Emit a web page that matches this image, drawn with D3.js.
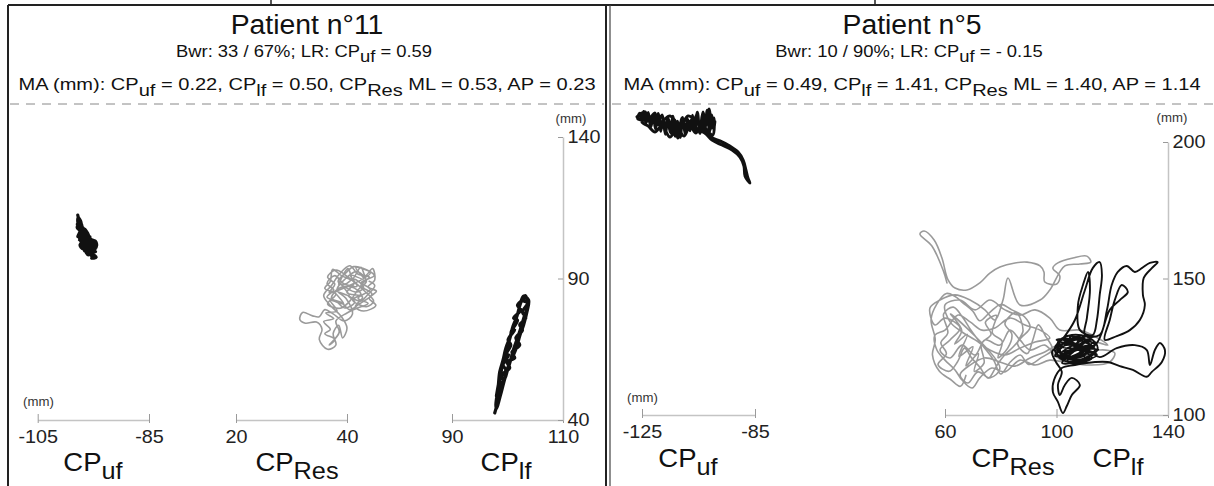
<!DOCTYPE html>
<meta charset="utf-8">
<style>
body { margin: 0; background: white; }
svg { display: block; font-family: "Liberation Sans", Arial, sans-serif; }
.trace { fill: none; stroke-linejoin: round; stroke-linecap: round; }
.axis path { stroke: #c4c4c4; stroke-width: 1.5px; }
.axis line { stroke: #9a9a9a; stroke-width: 1px; }
.axis text { fill: #222; }
</style>
<body>
<svg width="1214" height="486"></svg>
</body>
<script src="https://d3js.org/d3.v7.min.js"></script>
<script>

// panel texts
var titles = ["Patient n°11", "Patient n°5"];
var subtitles = [
  [["Bwr: 33 / 67%; LR: CP"], ["uf", 1], [" = 0.59"]],
  [["Bwr: 10 / 90%; LR: CP"], ["uf", 1], [" = - 0.15"]]
];
var maLines = [
  [["MA (mm): CP"], ["uf", 1], [" = 0.22, CP"], ["lf", 1], [" = 0.50, CP"], ["Res", 1], [" ML = 0.53, AP = 0.23"]],
  [["MA (mm): CP"], ["uf", 1], [" = 0.49, CP"], ["lf", 1], [" = 1.41, CP"], ["Res", 1], [" ML = 1.40, AP = 1.14"]]
];

// tick labels
var ticksL_uf = [-105, -85], ticksL_res = [20, 40], ticksL_lf = [90, 110], ticksL_y = [40, 90, 140];
var ticksR_uf = [-125, -85], ticksR_x = [60, 100, 140], ticksR_y = [100, 150, 200];

// patient 11 traces (mm)
var p11_uf = [[-97.8,112.4],[-97.6,110.0],[-97.9,108.0],[-97.4,106.8],[-97.8,104.8],[-97.0,105.8],[-96.7,103.3],[-97.4,101.9],[-96.9,100.5],[-96.3,102.6],[-96.5,105.4],[-96.0,104.0],[-95.6,104.7],[-96.2,101.8],[-95.8,99.7],[-95.3,101.1],[-94.7,103.3],[-94.4,101.8],[-94.9,99.7],[-95.4,98.0],[-95.6,100.4],[-96.3,99.4],[-96.7,101.5],[-97.2,102.9],[-97.6,105.4],[-97.0,108.2],[-97.4,110.2],[-97.8,111.3],[-97.4,107.1],[-96.5,106.4],[-96.1,104.7],[-96.7,103.6],[-95.9,101.8],[-95.1,103.6],[-94.6,102.2],[-95.2,100.1],[-95.9,98.3],[-96.5,100.0],[-97.1,104.0],[-96.6,107.5],[-96.0,105.9],[-95.5,103.0],[-95.0,98.6],[-94.5,97.5],[-95.3,97.2],[-95.0,97.8],[-96.0,99.0],[-94.6,99.5],[-95.8,100.9],[-94.5,101.0],[-96.2,102.5],[-94.9,102.8],[-96.8,104.2],[-95.4,104.0],[-97.3,105.5],[-96.2,106.0],[-97.6,107.2],[-96.8,107.8],[-97.9,109.2],[-97.2,109.6],[-97.7,111.6],[-97.3,108.5],[-96.4,105.2],[-97.5,103.6],[-96.0,103.0],[-97.1,101.2],[-95.5,101.9],[-96.6,99.8],[-95.2,99.3]];

var p11_res = [[38.5,88.0],[40.2,93.5],[41.0,90.0],[42.5,94.0],[43.3,91.0],[44.6,93.5],[45.0,89.5],[43.8,87.0],[45.3,85.5],[44.0,83.0],[45.2,80.5],[43.0,78.5],[41.5,80.0],[42.8,83.5],[40.0,85.0],[41.3,88.5],[39.0,91.0],[37.4,93.2],[37.0,89.0],[36.0,86.5],[38.0,84.5],[36.5,81.0],[38.8,79.5],[40.5,82.0],[42.0,86.0],[43.5,89.0],[41.8,92.5],[39.5,89.5],[38.2,86.0],[39.8,83.0],[41.0,77.5],[39.5,75.0],[37.5,77.5],[36.0,79.0],[35.0,76.5],[33.8,76.8],[32.0,78.0],[31.5,75.5],[32.5,74.2],[34.5,74.6],[35.5,72.0],[35.0,68.5],[36.5,65.0],[38.0,66.5],[37.5,70.5],[38.5,73.5],[39.2,69.0],[40.0,72.5],[39.0,76.5],[37.0,80.5],[35.8,84.0],[37.2,87.5],[38.6,91.5],[40.5,94.5],[42.0,91.5],[44.0,90.5],[42.5,87.5],[44.5,84.5],[42.2,81.0],[40.5,79.0],[39.0,81.5],[37.2,83.0],[38.5,86.5],[40.8,87.0],[42.5,84.5],[41.0,82.5],[43.5,80.0],[44.8,82.0],[43.2,85.5],[40.2,90.5],[38.0,93.0],[36.5,90.5],[37.8,88.0],[36.8,85.0],[44.2,92.0],[41.6,93.8],[43.0,89.8],[40.6,91.2],[41.8,87.2],[39.2,87.8],[40.4,84.0],[37.8,85.5],[39.4,81.0],[37.0,82.2],[38.2,78.5],[36.2,77.8],[37.6,75.8],[35.8,74.8],[37.0,72.0],[36.0,70.5],[37.8,68.5],[36.8,66.5],[38.6,71.0],[38.0,75.0],[40.0,77.8],[41.8,79.5],[43.8,81.2],[42.0,83.0],[44.2,86.2],[42.6,88.6],[44.9,91.0],[43.6,93.0],[41.2,94.2],[39.8,92.0],[38.4,89.0],[39.8,86.8],[41.6,85.2],[43.0,86.8],[41.2,89.8],[39.6,88.0],[37.8,91.0],[36.4,88.2],[37.6,86.0],[36.4,83.4],[38.0,82.0],[39.6,79.6],[41.4,81.6],[40.2,83.8],[42.4,82.0],[43.6,84.0],[45.0,87.5],[44.0,89.0]];

var p11_lf = [[97.7,42.5],[98.4,47.8],[98.1,47.1],[99.0,52.4],[98.6,54.1],[99.7,57.7],[99.2,59.4],[100.2,63.0],[99.5,62.6],[100.6,66.5],[100.1,68.3],[101.3,71.8],[100.6,71.1],[101.8,75.3],[101.1,76.0],[102.4,78.9],[101.8,80.6],[103.1,83.1],[102.6,82.4],[103.6,81.3],[102.7,78.2],[103.3,76.0],[102.2,73.6],[102.7,71.8],[101.5,69.0],[102.2,66.5],[100.8,64.0],[101.3,61.9],[99.9,60.5],[100.4,58.4],[99.0,55.9],[99.3,53.4],[98.4,49.9],[98.8,52.0],[99.7,55.5],[100.2,59.4],[101.0,62.6],[101.7,66.1],[102.2,69.7],[102.9,73.6],[103.5,78.2],[103.8,82.4],[102.9,83.8],[102.2,80.3],[101.7,76.7],[101.0,73.2],[100.4,69.0],[99.7,65.4],[99.2,61.2],[98.6,57.0],[98.3,51.3],[97.9,45.3],[98.0,44.0],[98.9,50.0],[99.5,54.5],[100.4,60.0],[101.0,64.5],[101.8,69.0],[102.4,72.5],[103.0,76.5],[103.6,80.0],[103.2,84.0],[102.4,81.5],[101.9,78.0],[101.3,74.5],[100.6,70.0],[100.0,66.0],[99.4,62.0],[98.9,57.5],[98.4,53.0],[98.0,48.5]];

// patient 5 traces (mm)
var p5_uf = [[-126.8,209.2],[-123.9,211.0],[-122.9,208.1],[-120.4,210.6],[-119.7,206.2],[-117.9,209.9],[-116.9,204.4],[-115.8,208.8],[-114.4,202.6],[-113.3,208.1],[-112.3,201.5],[-110.8,208.8],[-109.4,203.7],[-108.0,207.7],[-107.3,205.1],[-105.5,210.3],[-104.5,204.4],[-103.4,211.0],[-102.3,206.2],[-101.3,212.1],[-100.2,205.1],[-99.5,208.8],[-99.9,202.6],[-101.6,203.7],[-103.8,206.6],[-105.9,203.3],[-108.0,205.9],[-110.1,202.2],[-112.6,205.1],[-115.1,201.8],[-117.9,205.9],[-120.4,203.7],[-122.9,205.9],[-125.0,207.3],[-122.2,209.2],[-118.6,207.3],[-115.1,209.5],[-111.5,205.9],[-108.7,209.5],[-105.2,207.3],[-102.7,203.7],[-100.2,201.5],[-97.4,200.4],[-93.9,198.5],[-91.0,196.3],[-89.2,193.4],[-88.2,189.7],[-87.5,186.8],[-86.8,185.0],[-88.5,187.5],[-88.9,191.2],[-90.3,194.5],[-93.1,197.1],[-96.7,198.9],[-100.2,200.7],[-102.3,202.9],[-104.0,204.0],[-108.0,206.0],[-112.0,206.5],[-116.0,207.0],[-120.0,207.5],[-124.0,208.0],[-126.5,208.5],[-125.8,210.5],[-125.2,207.8],[-124.4,211.2],[-123.6,206.9],[-122.8,210.8],[-121.9,205.5],[-121.0,209.6],[-120.2,204.8],[-119.3,210.4],[-118.4,203.9],[-117.6,208.2],[-116.7,202.8],[-115.9,208.9],[-115.0,203.5],[-114.1,209.4],[-113.2,202.1],[-112.4,207.6],[-111.5,201.7],[-110.6,209.0],[-109.7,202.9],[-108.9,208.4],[-108.0,204.1],[-107.1,209.8],[-106.3,203.6],[-105.4,210.9],[-104.5,203.2],[-103.7,209.5],[-102.8,204.5],[-101.9,211.6],[-101.1,203.9],[-100.3,209.9],[-99.6,204.8],[-99.2,207.5]];

var p5_res = [[60.7,148.4],[59.3,153.1],[55.3,161.9],[51.0,166.3],[52.5,167.4],[56.1,164.1],[58.9,157.5],[61.1,149.5],[63.6,146.5],[67.9,145.8],[72.5,148.4],[76.1,152.0],[79.7,154.2],[85.1,155.7],[89.4,156.0],[94.1,154.6],[95.5,152.4],[95.8,148.7],[100.1,148.0],[101.2,150.9],[98.7,153.8],[100.5,155.7],[105.9,157.5],[110.9,158.2],[112.3,156.0],[108.4,155.3],[103.0,154.6],[97.6,145.8],[94.1,142.1],[86.9,140.3],[82.6,150.2],[80.8,142.1],[77.9,134.8],[74.3,138.5],[69.0,142.1],[63.6,144.0],[58.2,142.1],[54.6,139.2],[56.4,133.0],[60.0,135.5],[65.4,131.9],[61.8,127.5],[58.2,123.8],[61.8,120.9],[66.1,125.6],[70.8,122.0],[74.3,127.5],[79.7,125.6],[83.3,131.1],[86.9,127.5],[90.5,123.8],[95.8,125.6],[99.4,122.0],[101.9,120.1],[108.4,120.9],[115.5,123.8],[120.9,122.7],[119.1,119.4],[112.0,118.3],[104.8,119.0],[97.6,120.1],[92.3,118.3],[86.9,120.1],[81.5,115.8],[76.8,117.2],[72.5,113.6],[69.7,109.9],[66.1,112.8],[63.6,116.5],[60.0,120.1],[57.1,123.8],[56.4,129.3],[60.0,131.1],[64.7,136.6],[69.0,134.1],[73.3,131.1],[77.9,131.9],[83.3,135.5],[88.7,133.0],[94.1,131.1],[97.6,128.2],[92.3,126.7],[86.9,124.5],[81.5,122.0],[76.1,123.8],[70.8,127.5],[66.1,130.4],[61.8,134.1],[60.0,140.3],[65.4,142.1],[70.8,138.5],[76.1,142.1],[81.5,138.5],[86.9,136.6],[92.3,138.5],[97.6,135.5],[101.2,131.1],[108.4,131.1],[114.8,128.2],[118.4,125.6],[113.8,126.7],[106.6,125.6],[100.5,125.6],[95.8,123.1],[90.5,120.9],[85.1,117.9],[79.7,119.4],[74.3,120.9],[69.0,118.3],[65.4,114.7],[68.2,111.7],[71.8,115.8],[76.1,113.6],[79.7,117.2],[62.0,137.0],[66.0,131.0],[63.5,126.0],[68.0,129.5],[65.0,121.5],[70.0,125.0],[67.5,118.0],[72.0,122.5],[70.5,116.0],[74.0,119.0],[73.0,126.0],[76.5,129.5],[74.5,134.0],[78.5,136.5],[77.0,130.0],[80.5,127.0],[79.0,121.0],[82.5,124.5],[84.0,129.5],[81.5,133.5],[85.5,137.5],[88.0,131.0],[86.0,126.0],[89.5,122.5],[91.5,127.5],[93.5,133.0],[96.0,129.0],[98.5,124.0],[94.5,121.0],[90.0,118.5],[87.0,122.0],[83.5,119.5],[80.0,115.0],[77.5,120.0],[75.0,123.5],[71.5,128.0],[69.0,131.5],[66.5,135.5],[63.0,139.5],[59.5,137.0],[61.0,130.0],[58.5,126.5],[60.5,122.5],[57.5,118.5],[61.5,116.0],[64.5,119.5],[67.0,124.5],[69.5,121.0],[72.5,117.5],[75.5,113.5],[78.5,118.0],[81.0,121.5],[84.5,125.0],[87.5,128.5],[90.5,132.0],[88.5,136.0],[84.0,138.5],[80.0,140.5],[76.0,137.5],[72.5,134.5],[70.0,138.0],[66.5,141.0],[63.5,143.5],[60.5,144.5],[57.0,140.5],[55.0,135.0],[56.5,127.5],[55.5,122.0],[58.0,116.0],[62.0,113.0],[65.5,110.5],[67.5,114.5]];

var p5_lf = [[103.0,125.6],[108.4,128.2],[112.0,125.6],[110.2,122.0],[104.8,120.9],[101.2,123.8],[104.1,127.5],[110.2,126.7],[113.8,123.8],[107.7,120.1],[101.9,122.0],[100.5,126.7],[105.5,129.3],[112.0,128.2],[114.8,124.5],[111.3,120.9],[105.5,119.4],[101.2,120.9],[99.4,124.5],[103.0,128.9],[106.6,134.8],[110.2,145.8],[113.0,153.8],[115.5,156.0],[116.3,151.3],[115.5,144.0],[114.5,134.8],[113.0,129.3],[108.4,131.1],[107.7,140.3],[109.5,147.6],[111.3,152.4],[112.0,145.8],[110.9,135.5],[110.2,129.3],[115.5,129.3],[118.1,138.5],[119.8,147.6],[122.0,152.4],[125.2,154.6],[128.1,152.4],[130.6,153.8],[133.5,155.7],[136.3,156.0],[134.2,153.8],[131.3,150.2],[131.0,144.0],[131.7,140.3],[129.9,134.8],[126.3,131.1],[121.6,128.9],[117.3,127.5],[119.1,134.8],[120.9,142.1],[123.4,147.6],[125.6,145.1],[122.7,142.1],[119.1,138.5],[113.8,125.6],[106.6,125.6],[101.9,127.5],[100.5,122.0],[106.6,123.8],[112.0,123.1],[115.5,121.2],[121.6,124.5],[128.1,125.6],[132.4,123.8],[133.5,118.3],[135.3,123.8],[137.1,126.4],[138.9,123.8],[137.8,119.4],[134.2,115.8],[132.4,114.0],[127.4,116.5],[122.7,117.9],[118.4,119.4],[113.8,119.4],[106.6,118.3],[101.9,117.2],[99.1,112.8],[98.7,108.4],[100.5,104.8],[102.3,100.7],[103.7,103.3],[105.5,107.3],[108.4,111.0],[105.5,113.6],[103.0,111.0],[101.2,107.3],[100.5,111.0],[101.9,115.8],[99.8,119.4],[98.4,123.1],[101.2,125.6],[104.8,126.7],[100.5,125.6],[110.2,128.2],[101.9,123.1],[111.3,125.6],[101.2,120.9],[112.0,123.1],[103.0,127.5],[112.7,120.9],[104.1,119.4],[108.4,128.9],[100.1,123.8],[110.5,120.1],[104.8,128.6],[113.8,125.6],[102.3,120.1],[109.5,123.8],[103.4,125.6],[99.5,121.5],[113.5,127.0],[100.0,127.5],[114.5,122.0],[102.0,119.0],[112.5,129.0],[101.0,125.0],[115.0,124.0],[103.5,121.5],[111.0,127.8],[105.0,123.0],[108.0,126.0]];

var svg = d3.select("svg");
var FONT = '"Liberation Sans", Arial, sans-serif';

// scales
var yL = d3.scaleLinear().domain([40, 140]).range([420, 137]);
var xL_uf = d3.scaleLinear().domain([-105, -85]).range([37.7, 149]);
var xL_res = d3.scaleLinear().domain([20, 40]).range([236, 347]);
var xL_lf = d3.scaleLinear().domain([90, 110]).range([452, 563]);

var yR = d3.scaleLinear().domain([100, 200]).range([415, 142]);
var xR_uf = d3.scaleLinear().domain([-125, -85]).range([642, 755]);
var xR = d3.scaleLinear().domain([60, 140]).range([945, 1168]);

// frame
svg.append("line").attr("x1", 8).attr("x2", 1214).attr("y1", 5).attr("y2", 5)
  .attr("stroke", "#222").attr("stroke-width", 2);
svg.append("line").attr("x1", 8).attr("x2", 8).attr("y1", 5).attr("y2", 486)
  .attr("stroke", "#222").attr("stroke-width", 2);
svg.append("line").attr("x1", 606).attr("x2", 606).attr("y1", 5).attr("y2", 486)
  .attr("stroke", "#222").attr("stroke-width", 2);
svg.append("line").attr("x1", 610).attr("x2", 610).attr("y1", 5).attr("y2", 486)
  .attr("stroke", "#444").attr("stroke-width", 1.2);
[271, 875].forEach(function(x) {
  svg.append("line").attr("x1", x).attr("x2", x).attr("y1", 0).attr("y2", 6)
    .attr("stroke", "#222").attr("stroke-width", 1.5);
});

// dashed separators
[[10, 604], [612, 1214]].forEach(function(r) {
  svg.append("line").attr("x1", r[0]).attr("x2", r[1]).attr("y1", 104).attr("y2", 104)
    .attr("stroke", "#888").attr("stroke-width", 1).attr("stroke-dasharray", "9,7");
});

// rich text helper, parts = [[text, isSub], ...]
function richText(x, y, parts, size, subSize, shift, sx, anchor) {
  var t = svg.append("text")
    .attr("transform", "translate(" + x + "," + y + ") scale(" + sx + ",1)")
    .attr("text-anchor", anchor || "middle")
    .style("font-size", size + "px")
    .style("font-family", FONT)
    .attr("fill", "#111");
  var down = false;
  parts.forEach(function(p) {
    var ts = t.append("tspan").text(p[0]);
    if (p[1]) {
      ts.attr("dy", shift).style("font-size", subSize + "px");
      down = true;
    } else if (down) {
      ts.attr("dy", -shift);
      down = false;
    }
  });
  return t;
}

var centers = [307, 912];
titles.forEach(function(s, i) {
  richText(centers[i], 34, [[s]], 27, 27, 0, 1.05);
  richText(centers[i] - 3, 57, subtitles[i], 16, 16, 5, 1.15);
  richText(centers[i], 90, maLines[i], 17, 17, 6, 1.18);
});

// axes
var fmt = function(d) { return String(d); };
function xAxis(scale, ticks, y) {
  var g = svg.append("g").attr("class", "axis")
    .attr("transform", "translate(0," + y + ")")
    .call(d3.axisBottom(scale).tickValues(ticks).tickSize(-6).tickSizeOuter(0).tickPadding(10).tickFormat(fmt));
  g.selectAll(".tick line").attr("y1", 3).attr("y2", -6);
  g.selectAll("text").style("font-size", "18px").style("font-family", FONT)
    .attr("transform", "scale(1.1,1)");
  return g;
}
function yAxis(scale, ticks, x) {
  var g = svg.append("g").attr("class", "axis")
    .attr("transform", "translate(" + x + ",0)")
    .call(d3.axisRight(scale).tickValues(ticks).tickSize(-5).tickSizeOuter(0).tickPadding(4).tickFormat(fmt));
  g.selectAll("text").style("font-size", "18px").style("font-family", FONT)
    .attr("transform", "scale(1.1,1)");
  return g;
}

xAxis(xL_uf, ticksL_uf, 420);
xAxis(xL_res, ticksL_res, 420);
xAxis(xL_lf, ticksL_lf, 420);
yAxis(yL, ticksL_y, 563);

xAxis(xR_uf, ticksR_uf, 415);
xAxis(xR, ticksR_x, 415);
yAxis(yR, ticksR_y, 1168);

// unit labels
[[23, 406, "start"], [571, 123, "middle"], [627, 402, "start"], [1172, 122, "middle"]].forEach(function(u) {
  richText(u[0], u[1], [["(mm)"]], 12, 12, 0, 1.1, u[2]).attr("fill", "#333");
});

// axis names
var names = [
  [93, 471, [["CP"], ["uf", 1]]],
  [297, 471, [["CP"], ["Res", 1]]],
  [506, 471, [["CP"], ["lf", 1]]],
  [688, 467, [["CP"], ["uf", 1]]],
  [1013, 467, [["CP"], ["Res", 1]]],
  [1118, 467, [["CP"], ["lf", 1]]]
];
names.forEach(function(n) {
  richText(n[0], n[1], n[2], 25, 23, 8, 1.1);
});

// traces
var curve = d3.curveCatmullRom.alpha(0.5);
function trace(data, xs, ys, color, width) {
  var line = d3.line().x(function(d) { return xs(d[0]); }).y(function(d) { return ys(d[1]); }).curve(curve);
  svg.append("path").datum(data).attr("class", "trace")
    .attr("d", line).attr("stroke", color).attr("stroke-width", width);
}

trace(p11_res, xL_res, yL, "#9a9a9a", 1.6);
trace(p11_uf, xL_uf, yL, "#111", 3.2);
trace(p11_lf, xL_lf, yL, "#111", 3.2);

trace(p5_res, xR, yR, "#9a9a9a", 1.6);
trace(p5_lf, xR, yR, "#111", 1.9);
trace(p5_uf, xR_uf, yR, "#111", 3);

</script>
